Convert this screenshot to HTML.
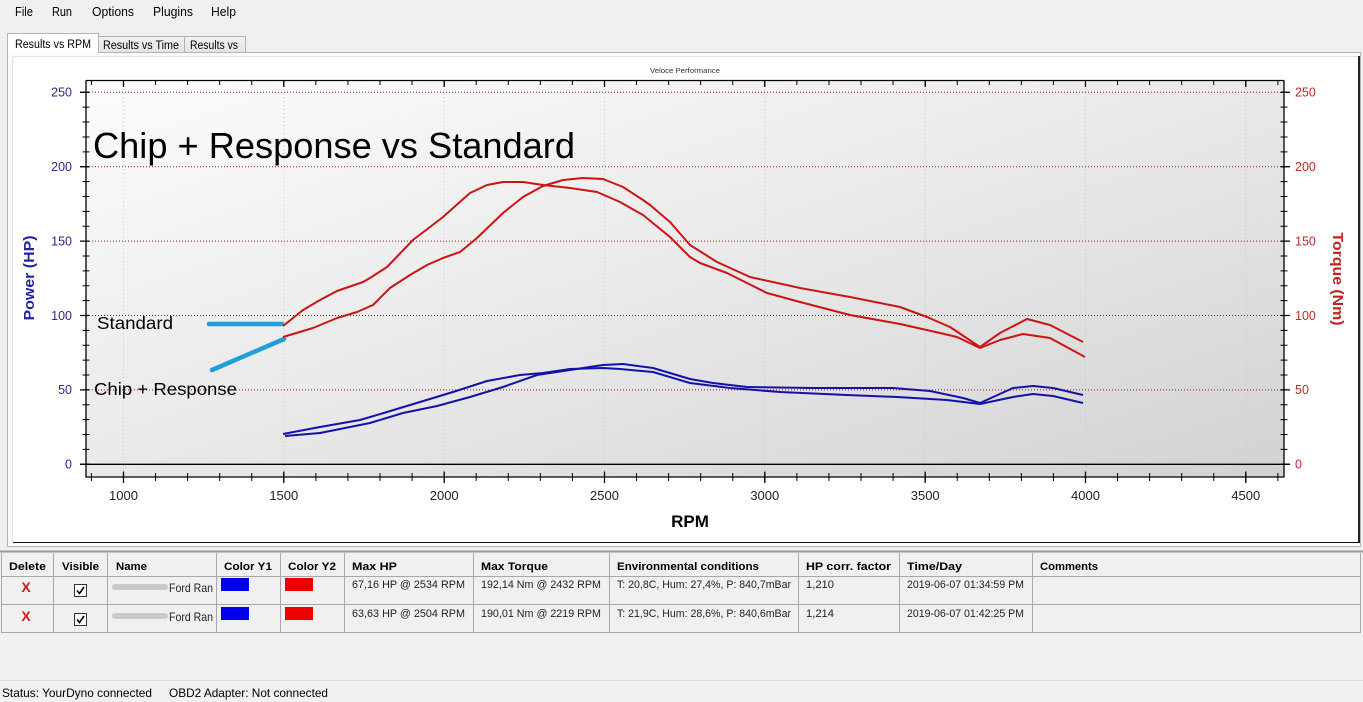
<!DOCTYPE html>
<html><head><meta charset="utf-8"><style>
html,body{margin:0;padding:0;background:#f0f0f0;width:1363px;height:702px;overflow:hidden}
svg{display:block;font-family:"Liberation Sans",Arial,sans-serif}
</style></head><body>
<svg width="1363" height="702" viewBox="0 0 1363 702" xmlns="http://www.w3.org/2000/svg">
<defs>
<linearGradient id="bg" x1="0" y1="0" x2="1" y2="1">
<stop offset="0" stop-color="#fcfcfc"/><stop offset="0.5" stop-color="#e9e9e9"/><stop offset="1" stop-color="#d2d2d2"/>
</linearGradient>
<linearGradient id="tabg" x1="0" y1="0" x2="0" y2="1"><stop offset="0" stop-color="#f2f2f2"/><stop offset="1" stop-color="#e3e3e3"/></linearGradient>
</defs>
<rect x="0" y="0" width="1363" height="702" fill="#f0f0f0"/>
<!-- menu -->
<g font-size="12.5" fill="#000">
<text x="15" y="16" textLength="18" lengthAdjust="spacingAndGlyphs">File</text>
<text x="52" y="16" textLength="20" lengthAdjust="spacingAndGlyphs">Run</text>
<text x="92" y="16" textLength="42" lengthAdjust="spacingAndGlyphs">Options</text>
<text x="153" y="16" textLength="40" lengthAdjust="spacingAndGlyphs">Plugins</text>
<text x="211" y="16" textLength="25" lengthAdjust="spacingAndGlyphs">Help</text>
</g>
<!-- tab page -->
<rect x="7.5" y="52.5" width="1353" height="494" fill="#fbfbfb" stroke="#b4b4b4"/>
<rect x="98.5" y="36.5" width="86" height="16" fill="url(#tabg)" stroke="#b4b4b4"/>
<rect x="184.5" y="36.5" width="61" height="16" fill="url(#tabg)" stroke="#b4b4b4"/>
<path d="M7.5 53 V33.5 H98.5 V53" fill="#fff" stroke="#b4b4b4"/>
<rect x="8" y="50" width="90" height="4" fill="#fff"/>
<g font-size="11.5" fill="#000">
<text x="15" y="48" textLength="76" lengthAdjust="spacingAndGlyphs">Results vs RPM</text>
<text x="103" y="49" textLength="76" lengthAdjust="spacingAndGlyphs">Results vs Time</text>
<text x="190" y="49" textLength="48" lengthAdjust="spacingAndGlyphs">Results vs</text>
</g>
<!-- chart control -->
<rect x="13" y="57" width="1345" height="485" fill="#fff"/>
<line x1="13" y1="56.5" x2="1359" y2="56.5" stroke="#e2e2e2"/>
<line x1="12.5" y1="57" x2="12.5" y2="542" stroke="#e2e2e2"/>
<line x1="1359" y1="56" x2="1359" y2="543" stroke="#222" stroke-width="2"/>
<line x1="13" y1="542.5" x2="1360" y2="542.5" stroke="#111"/>
<text x="685" y="73" font-size="7.5" fill="#333" text-anchor="middle" textLength="70" lengthAdjust="spacingAndGlyphs">Veloce Performance</text>
<!-- plot area -->
<rect x="86" y="81" width="1198" height="396" fill="url(#bg)"/>
<!-- vertical grid -->
<g stroke="#c4c4c4" stroke-width="1" stroke-dasharray="1 3">
<line x1="123.5" y1="81" x2="123.5" y2="477"/><line x1="283.8" y1="81" x2="283.8" y2="477"/>
<line x1="444.2" y1="81" x2="444.2" y2="477"/><line x1="604.5" y1="81" x2="604.5" y2="477"/>
<line x1="764.8" y1="81" x2="764.8" y2="477"/><line x1="925.2" y1="81" x2="925.2" y2="477"/>
<line x1="1085.5" y1="81" x2="1085.5" y2="477"/><line x1="1245.8" y1="81" x2="1245.8" y2="477"/>
</g>
<!-- horizontal grid -->
<g stroke="#a01818" stroke-width="1" stroke-dasharray="1 2">
<line x1="86" y1="92.3" x2="1284" y2="92.3"/><line x1="86" y1="166.7" x2="1284" y2="166.7"/>
<line x1="86" y1="241.1" x2="1284" y2="241.1"/><line x1="86" y1="315.5" x2="1284" y2="315.5"/>
<line x1="86" y1="389.9" x2="1284" y2="389.9"/>
</g>
<line x1="80" y1="464.3" x2="1290" y2="464.3" stroke="#000" stroke-width="1.3"/>
<!-- axes -->
<g stroke="#000" stroke-width="1.3" fill="none">
<line x1="86" y1="80.5" x2="1284" y2="80.5"/>
<line x1="86" y1="477" x2="1284" y2="477"/>
<line x1="86" y1="80.5" x2="86" y2="477.5"/>
<line x1="1284" y1="80.5" x2="1284" y2="477.5"/>
</g>
<!-- minor ticks -->
<g stroke="#000" fill="none">
<line x1="90.9" y1="477" x2="1280" y2="477" stroke-width="8" stroke-dasharray="1 31.067"/>
<line x1="90.9" y1="82.5" x2="1280" y2="82.5" stroke-width="5" stroke-dasharray="1 31.067"/>
<line x1="86" y1="464.8" x2="86" y2="91" stroke-width="7" stroke-dasharray="1 13.88"/>
<line x1="1284" y1="464.8" x2="1284" y2="91" stroke-width="7" stroke-dasharray="1 13.88"/>
</g>
<!-- major ticks -->
<g stroke="#000" stroke-width="1.3">
<path d="M123.5 471.5V483 M283.8 471.5V483 M444.2 471.5V483 M604.5 471.5V483 M764.8 471.5V483 M925.2 471.5V483 M1085.5 471.5V483 M1245.8 471.5V483"/>
<path d="M123.5 80V87 M283.8 80V87 M444.2 80V87 M604.5 80V87 M764.8 80V87 M925.2 80V87 M1085.5 80V87 M1245.8 80V87"/>
<path d="M80 92.3H89 M80 166.7H89 M80 241.1H89 M80 315.5H89 M80 389.9H89 M80 464.3H89"/>
<path d="M1281 92.3H1290 M1281 166.7H1290 M1281 241.1H1290 M1281 315.5H1290 M1281 389.9H1290 M1281 464.3H1290"/>
</g>
<!-- tick labels -->
<g font-size="12.5" fill="#2b2b8c" text-anchor="end">
<text x="72" y="96.6">250</text><text x="72" y="171">200</text><text x="72" y="245.4">150</text>
<text x="72" y="319.8">100</text><text x="72" y="394.2">50</text><text x="72" y="468.6">0</text>
</g>
<g font-size="12.5" fill="#c02828">
<text x="1295" y="96.6">250</text><text x="1295" y="171">200</text><text x="1295" y="245.4">150</text>
<text x="1295" y="319.8">100</text><text x="1295" y="394.2">50</text><text x="1295" y="468.6">0</text>
</g>
<g font-size="13" fill="#222" text-anchor="middle">
<text x="123.5" y="500">1000</text><text x="283.8" y="500">1500</text><text x="444.2" y="500">2000</text>
<text x="604.5" y="500">2500</text><text x="764.8" y="500">3000</text><text x="925.2" y="500">3500</text>
<text x="1085.5" y="500">4000</text><text x="1245.8" y="500">4500</text>
</g>
<text x="690" y="527" font-size="17" font-weight="bold" fill="#000" text-anchor="middle">RPM</text>
<text transform="translate(34,278) rotate(-90)" font-size="14.5" font-weight="bold" fill="#2323a8" text-anchor="middle" textLength="85" lengthAdjust="spacingAndGlyphs">Power (HP)</text>
<text transform="translate(1333,279) rotate(90)" font-size="14.5" font-weight="bold" fill="#c42020" text-anchor="middle" textLength="93" lengthAdjust="spacingAndGlyphs">Torque (Nm)</text>
<!-- annotations -->
<text x="93" y="158" font-size="36" fill="#000" textLength="482" lengthAdjust="spacingAndGlyphs">Chip + Response vs Standard</text>
<text x="97" y="329" font-size="17.5" fill="#000" textLength="76" lengthAdjust="spacingAndGlyphs">Standard</text>
<text x="94" y="395" font-size="17.5" fill="#000" textLength="143" lengthAdjust="spacingAndGlyphs">Chip + Response</text>
<g stroke="#1fa0d8" stroke-width="4.5" stroke-linecap="round">
<line x1="209" y1="324" x2="282" y2="324"/>
<line x1="212" y1="370" x2="284" y2="339"/>
</g>
<!-- red torque curves -->
<g fill="none" stroke="#cc1414" stroke-width="2" stroke-linejoin="round">
<polyline points="283,326 303,310 320,300 337,291 363,282 370,278 387,267 413,240 443,217 470,193 487,185 503,182 523,182 543,185 570,188 597,192 620,202 643,215 670,237 690,257 700,263 727,273 767,293 800,302 850,315 900,324 940,333 957,337 980,348 1000,340 1023,334 1050,338 1085,357"/>
<polyline points="283,337 313,328 337,318 357,312 373,305 390,288 410,275 427,265 443,258 460,252 477,238 503,213 523,197 543,186 563,180 583,178 603,179 623,187 643,200 650,205 670,222 690,245 717,262 750,277 800,288 850,297 900,307 927,317 950,327 980,347 1000,333 1027,319 1050,325 1083,342"/>
</g>
<!-- blue power curves -->
<g fill="none" stroke="#1212aa" stroke-width="2" stroke-linejoin="round">
<polyline points="283,434 320,427 360,420 387,412 420,402 453,392 487,381 520,375 543,373 570,369 603,368 620,369 653,372 690,383 730,388 780,392 847,395 897,397 947,400 980,404 1013,397 1033,394 1053,396 1083,403"/>
<polyline points="285,436 320,433 370,423 403,413 437,406 470,397 503,387 537,375 570,370 603,365 623,364 653,368 690,379 713,383 747,387 813,388 893,388 930,391 963,398 980,403 1013,388 1033,386 1053,388 1083,395"/>
</g>
<!-- table -->
<line x1="0" y1="551.5" x2="1363" y2="551.5" stroke="#9a9a9a" stroke-width="2"/>
<rect x="1" y="553" width="1360" height="80" fill="#f0f0f0"/>
<g stroke="#a8a8a8" stroke-width="1">
<line x1="1" y1="576.5" x2="1361" y2="576.5"/>
<line x1="1" y1="604.5" x2="1361" y2="604.5"/>
<line x1="1" y1="632.5" x2="1361" y2="632.5"/>
<line x1="1.5" y1="553" x2="1.5" y2="633"/>
<line x1="1360.5" y1="553" x2="1360.5" y2="633"/>
<path d="M53.5 553V633 M107.5 553V633 M216.5 553V633 M280.5 553V633 M344.5 553V633 M473.5 553V633 M609.5 553V633 M798.5 553V633 M899.5 553V633 M1032.5 553V633"/>
</g>
<g font-size="11" font-weight="bold" fill="#000">
<text x="9" y="570" textLength="37" lengthAdjust="spacingAndGlyphs">Delete</text>
<text x="62" y="570" textLength="37" lengthAdjust="spacingAndGlyphs">Visible</text>
<text x="116" y="570" textLength="31" lengthAdjust="spacingAndGlyphs">Name</text>
<text x="224" y="570" textLength="48" lengthAdjust="spacingAndGlyphs">Color Y1</text>
<text x="288" y="570" textLength="48" lengthAdjust="spacingAndGlyphs">Color Y2</text>
<text x="352" y="570" textLength="45" lengthAdjust="spacingAndGlyphs">Max HP</text>
<text x="481" y="570" textLength="67" lengthAdjust="spacingAndGlyphs">Max Torque</text>
<text x="617" y="570" textLength="142" lengthAdjust="spacingAndGlyphs">Environmental conditions</text>
<text x="806" y="570" textLength="85" lengthAdjust="spacingAndGlyphs">HP corr. factor</text>
<text x="907" y="570" textLength="55" lengthAdjust="spacingAndGlyphs">Time/Day</text>
<text x="1040" y="570" textLength="58" lengthAdjust="spacingAndGlyphs">Comments</text>
</g>
<g font-size="14" font-weight="bold" fill="#d01818" text-anchor="middle">
<text x="26" y="592">X</text><text x="26" y="621">X</text>
</g>
<g>
<rect x="74.5" y="584.5" width="12" height="12" fill="#fff" stroke="#333"/>
<path d="M77 590.5 L79.5 593.5 L84 587" fill="none" stroke="#000" stroke-width="1.6"/>
<rect x="74.5" y="613.5" width="12" height="12" fill="#fff" stroke="#333"/>
<path d="M77 619.5 L79.5 622.5 L84 616" fill="none" stroke="#000" stroke-width="1.6"/>
</g>
<rect x="112" y="584" width="56" height="6" rx="3" fill="#c9c9c9"/>
<rect x="112" y="613" width="56" height="6" rx="3" fill="#c9c9c9"/>
<g font-size="12" fill="#222">
<text x="169" y="592" textLength="44" lengthAdjust="spacingAndGlyphs">Ford Ran</text>
<text x="169" y="621" textLength="44" lengthAdjust="spacingAndGlyphs">Ford Ran</text>
</g>
<rect x="221" y="578" width="28" height="13" fill="#0000ee"/>
<rect x="221" y="607" width="28" height="13" fill="#0000ee"/>
<rect x="285" y="578" width="28" height="13" fill="#ee0000"/>
<rect x="285" y="607" width="28" height="13" fill="#ee0000"/>
<g font-size="11" fill="#222">
<text x="352" y="588" textLength="113" lengthAdjust="spacingAndGlyphs">67,16 HP @ 2534 RPM</text>
<text x="481" y="588" textLength="120" lengthAdjust="spacingAndGlyphs">192,14 Nm @ 2432 RPM</text>
<text x="617" y="588" textLength="174" lengthAdjust="spacingAndGlyphs">T: 20,8C, Hum: 27,4%, P: 840,7mBar</text>
<text x="806" y="588" textLength="28" lengthAdjust="spacingAndGlyphs">1,210</text>
<text x="907" y="588" textLength="117" lengthAdjust="spacingAndGlyphs">2019-06-07 01:34:59 PM</text>
<text x="352" y="617" textLength="113" lengthAdjust="spacingAndGlyphs">63,63 HP @ 2504 RPM</text>
<text x="481" y="617" textLength="120" lengthAdjust="spacingAndGlyphs">190,01 Nm @ 2219 RPM</text>
<text x="617" y="617" textLength="174" lengthAdjust="spacingAndGlyphs">T: 21,9C, Hum: 28,6%, P: 840,6mBar</text>
<text x="806" y="617" textLength="28" lengthAdjust="spacingAndGlyphs">1,214</text>
<text x="907" y="617" textLength="117" lengthAdjust="spacingAndGlyphs">2019-06-07 01:42:25 PM</text>
</g>
<!-- status bar -->
<line x1="0" y1="680.5" x2="1363" y2="680.5" stroke="#dcdcdc"/>
<g font-size="12" fill="#000">
<text x="2" y="697" textLength="150" lengthAdjust="spacingAndGlyphs">Status: YourDyno connected</text>
<text x="169" y="697" textLength="159" lengthAdjust="spacingAndGlyphs">OBD2 Adapter: Not connected</text>
</g>
</svg>
</body></html>
